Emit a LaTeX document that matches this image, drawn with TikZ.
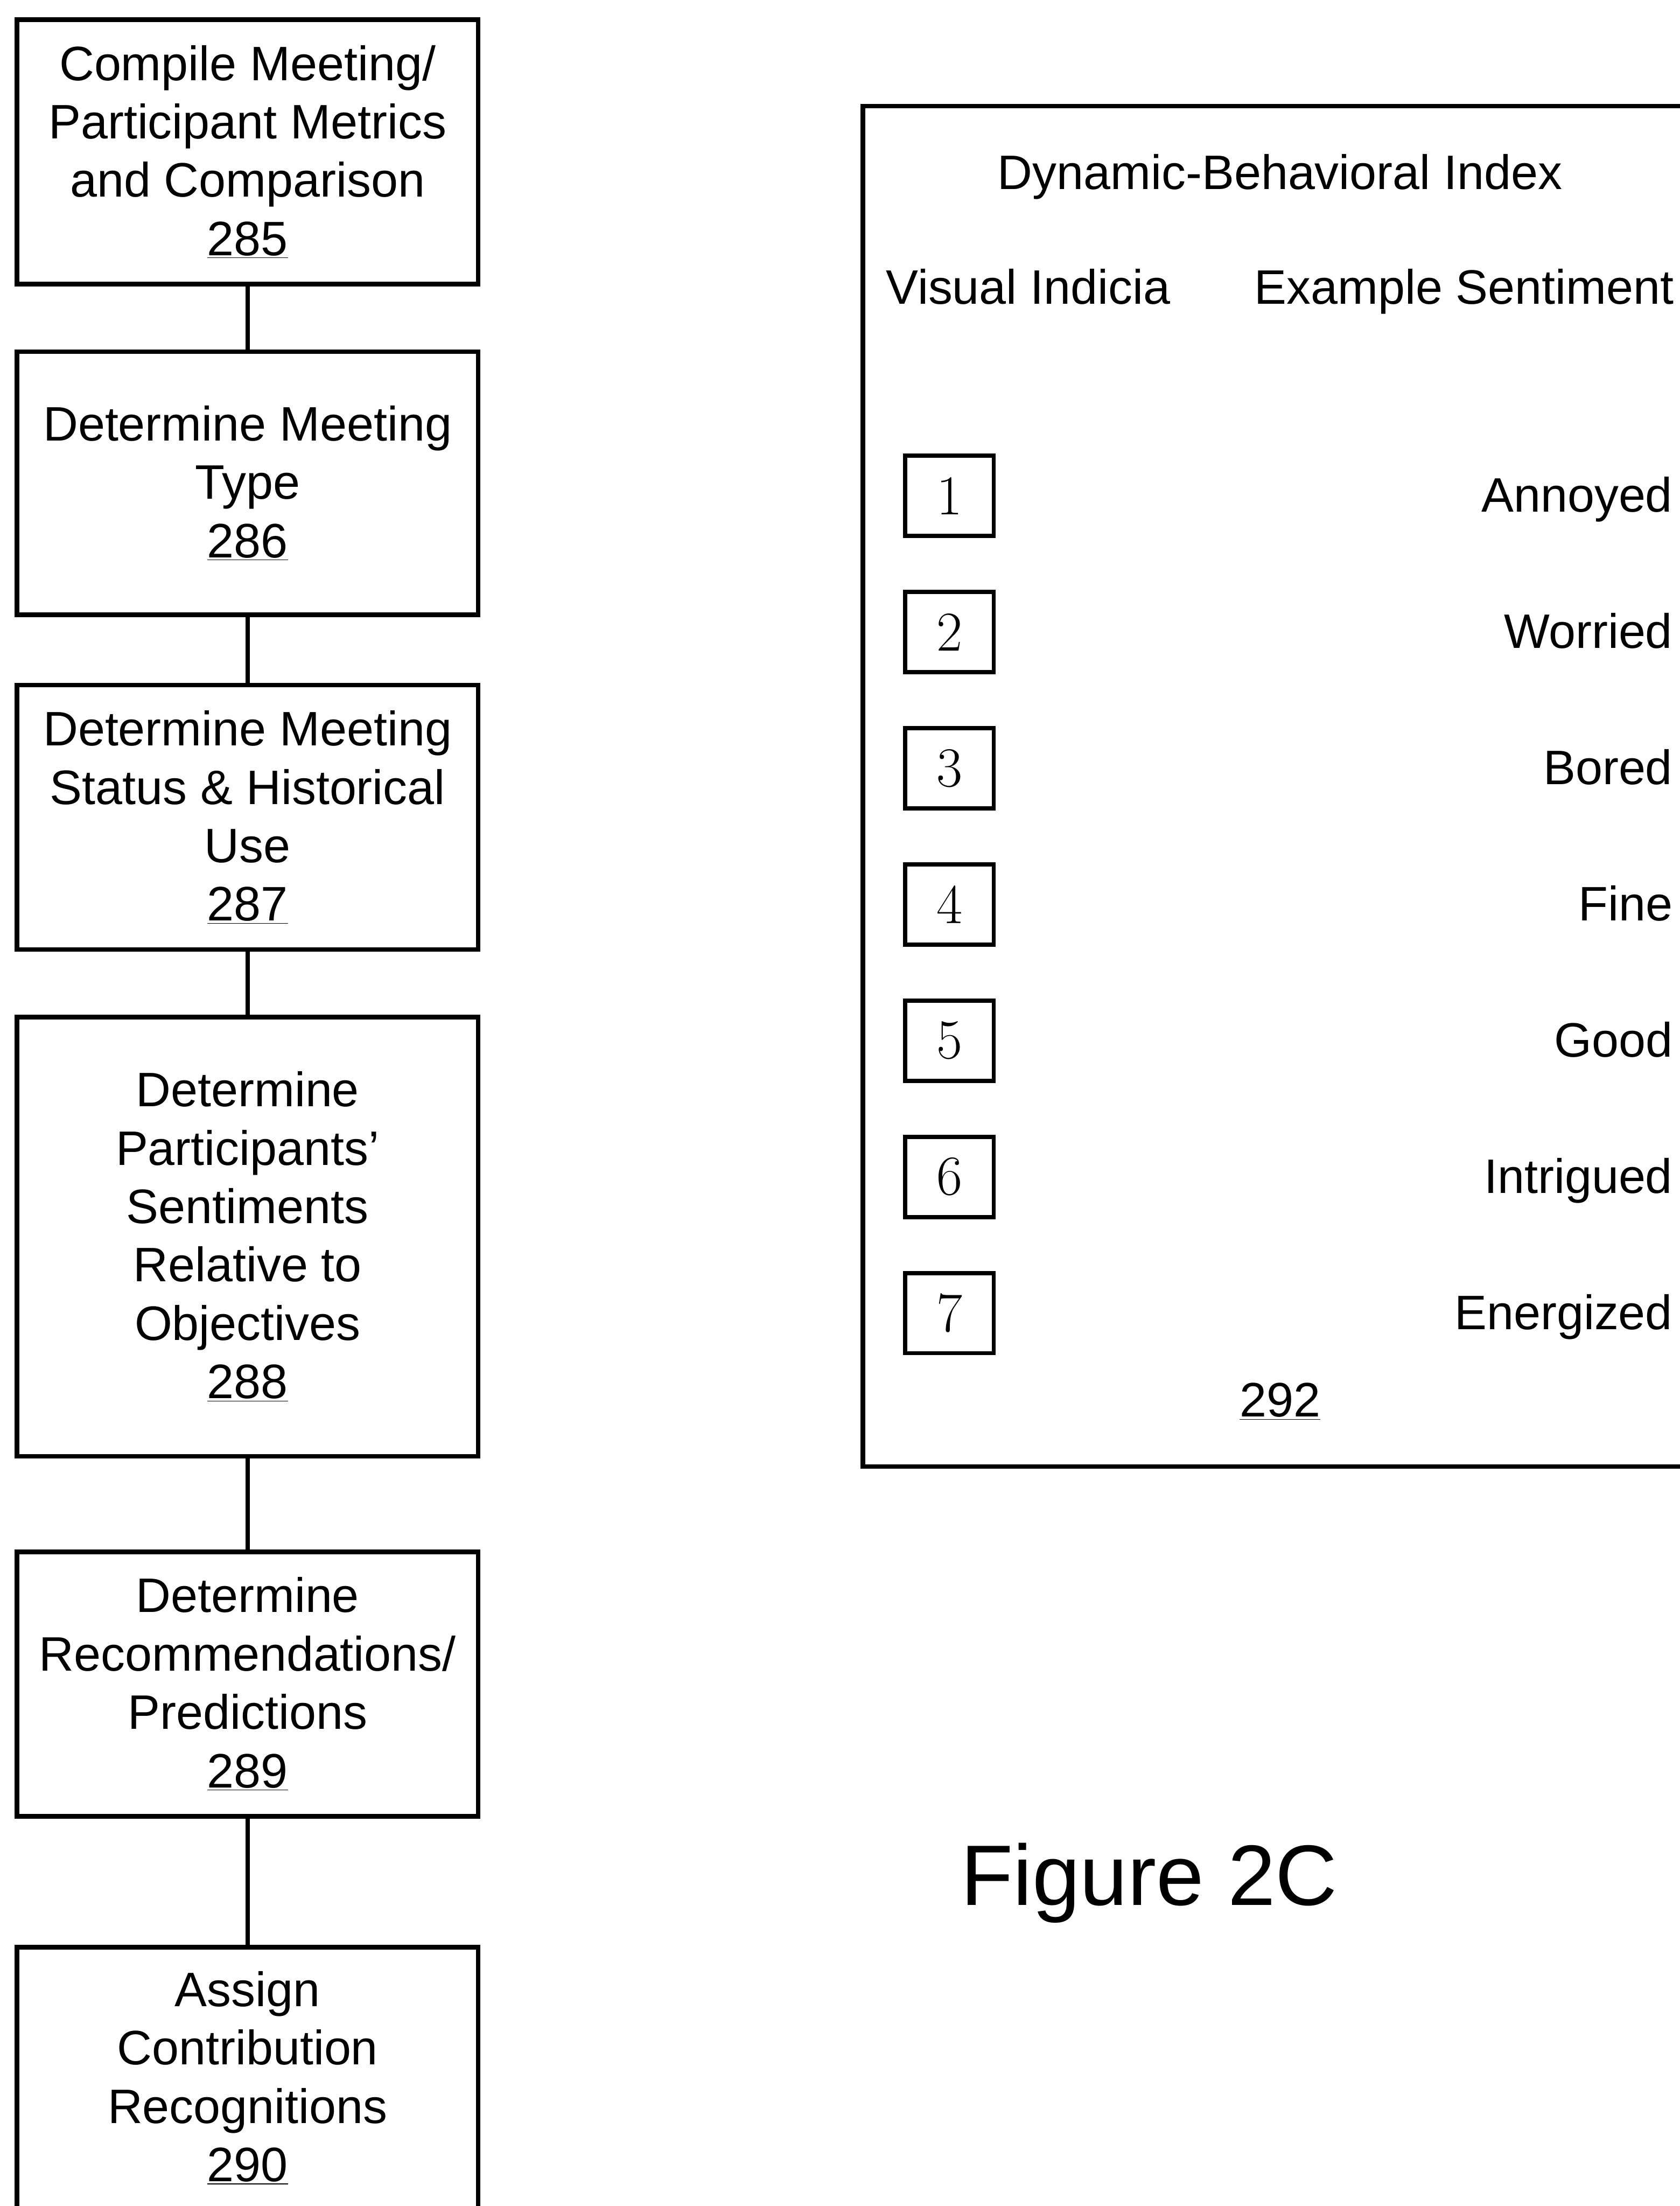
\documentclass[tikz,border=0pt]{standalone}
\usepackage{fontspec}
\setsansfont{Liberation Sans}
\begin{document}
\begin{tikzpicture}[x=1pt,y=-1pt,
  every node/.style={inner sep=0pt, outer sep=0pt},
  txt/.style={font=\sffamily\fontsize{34.4}{41.5}\selectfont},
  stepbox/.style={txt, draw, line width=3.2pt, minimum width=328pt, align=center},
  link/.style={line width=3.2pt},
  panel/.style={draw, line width=3.2pt, anchor=north west},
  idx/.style={draw, line width=3pt, minimum width=63pt, minimum height=57pt,
    font=\rmfamily\fontsize{40}{48}\selectfont},
  senti/.style={txt, anchor=base east}
]
\useasboundingbox (0,0) rectangle (1194,1568);

% flow of steps on the left
\node[stepbox, minimum height=188pt] (s285) at (176,108)
  {Compile Meeting/\\Participant Metrics\\and Comparison\\\underline{285}};
\node[stepbox, minimum height=187pt] (s286) at (176,343.5)
  {Determine Meeting\\Type\\\underline{286}};
\node[stepbox, minimum height=188pt] (s287) at (176,581)
  {Determine Meeting\\Status \& Historical\\Use\\\underline{287}};
\node[stepbox, minimum height=312pt] (s288) at (176,879)
  {Determine\\Participants'\\Sentiments\\Relative to\\Objectives\\\underline{288}};
\node[stepbox, minimum height=188pt] (s289) at (176,1197)
  {Determine\\Recommendations/\\Predictions\\\underline{289}};
\node[stepbox, minimum height=186pt] (s290) at (176,1477)
  {Assign\\Contribution\\Recognitions\\\underline{290}};

\draw[link] (s285.south) -- (s286.north);
\draw[link] (s286.south) -- (s287.north);
\draw[link] (s287.south) -- (s288.north);
\draw[link] (s288.south) -- (s289.north);
\draw[link] (s289.south) -- (s290.north);

% dynamic-behavioral index panel
\node[panel, minimum width=620pt, minimum height=967pt] (dbi) at (613.5,75.5) {};
\node[txt, anchor=base] (title) at (910,134.5) {Dynamic-Behavioral Index};
\node[txt, anchor=base west] (colA) at (630,216) {Visual Indicia};
\node[txt, anchor=base east] (colB) at (1190,216) {Example Sentiment};

\foreach \i/\word in {1/Annoyed,2/Worried,3/Bored,4/Fine,5/Good,6/Intrigued,7/Energized}{
  \node[idx] (v\i) at (675,{352.5+96.8*(\i-1)}) {\i};
  \node[senti] (e\i) at (1189,{364+96.8*(\i-1)}) {\word};
}
\node[txt, anchor=base] (ref292) at (910,1007) {\underline{292}};

\node[font=\sffamily\fontsize{61}{73}\selectfont, anchor=base] (fig) at (817,1354) {Figure 2C};
\end{tikzpicture}
\end{document}
